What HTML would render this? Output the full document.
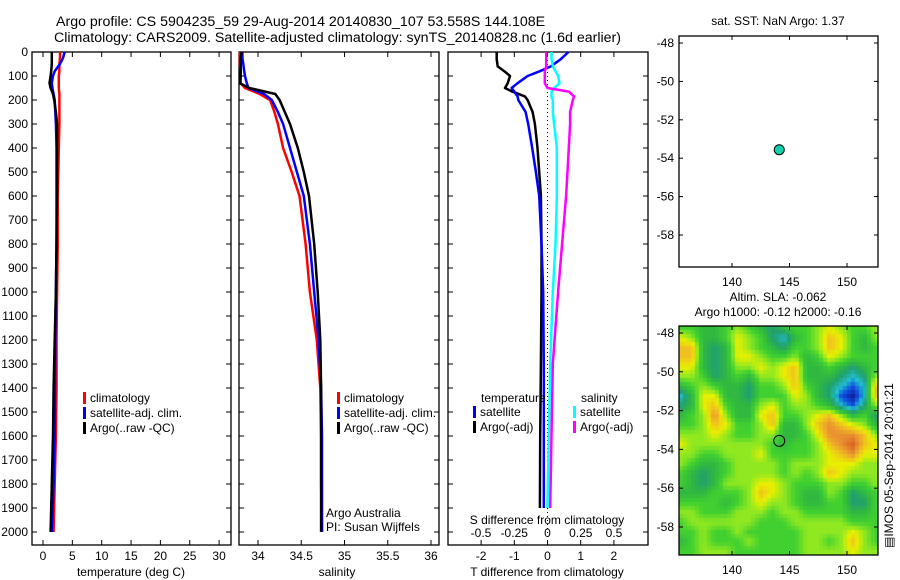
<!DOCTYPE html>
<html><head><meta charset="utf-8">
<style>
html,body{margin:0;padding:0;background:#fff;}
svg{display:block;font-family:"Liberation Sans",sans-serif;}
text{font-size:12px;fill:#000;}
</style></head>
<body>
<svg id="chart" width="900" height="580" viewBox="0 0 900 580" xmlns="http://www.w3.org/2000/svg">
<text x="56" y="26" style="font-size:14.2px">Argo profile: CS 5904235_59 29-Aug-2014 20140830_107 53.558S 144.108E</text>
<text x="54" y="42" style="font-size:14.2px">Climatology: CARS2009. Satellite-adjusted climatology: synTS_20140828.nc (1.6d earlier)</text>
<g id="g"></g>
<foreignObject x="679" y="326" width="199" height="229"><canvas xmlns="http://www.w3.org/1999/xhtml" id="hm" width="199" height="229" style="display:block"></canvas></foreignObject>
<g id="g2"></g>
</svg>
<script>
// ---- data ----
const depths=[0,25,50,80,100,130,150,175,200,250,300,400,500,600,800,1000,1200,1400,1600,1800,2000];
const tClim=[2.9,2.9,2.8,2.8,2.7,2.7,2.7,2.8,2.8,2.8,2.8,2.7,2.6,2.5,2.5,2.4,2.3,2.3,2.2,2.0,1.8];
const tSat=[3.7,3.4,2.9,2.0,1.7,1.5,1.6,1.8,2.0,2.1,2.2,2.3,2.3,2.3,2.3,2.2,2.1,2.05,2.0,1.8,1.5];
const tArgo=[1.5,1.5,1.5,1.4,1.3,1.1,1.3,1.7,1.9,2.2,2.4,2.4,2.4,2.4,2.3,2.2,2.0,1.8,1.7,1.5,1.3];
const sClim=[33.79,33.79,33.79,33.80,33.80,33.80,33.85,34.02,34.14,34.19,34.23,34.29,34.39,34.48,34.55,34.60,34.68,34.72,34.73,34.73,34.74];
const sSat=[33.82,33.82,33.83,33.84,33.85,33.87,33.89,34.07,34.16,34.23,34.29,34.37,34.45,34.53,34.60,34.65,34.70,34.73,34.74,34.74,34.74];
const sArgo=[33.81,33.80,33.80,33.80,33.80,33.79,33.90,34.20,34.25,34.31,34.37,34.46,34.53,34.59,34.65,34.69,34.72,34.73,34.73,34.73,34.73];
const dDepths=[0,30,60,80,100,130,150,165,185,200,250,300,400,500,600,800,1000,1300,1600,1900];
const dTSat=[0.63,0.4,0.1,-0.23,-0.6,-0.9,-1.08,-1.0,-0.9,-0.88,-0.66,-0.58,-0.46,-0.35,-0.25,-0.18,-0.13,-0.11,-0.11,-0.11];
const dTArgo=[-1.53,-1.53,-1.5,-1.3,-1.13,-1.2,-1.28,-1.06,-0.68,-0.6,-0.45,-0.38,-0.3,-0.25,-0.2,-0.18,-0.18,-0.2,-0.22,-0.23];
const dSSat=[0.03,0.03,0.04,0.06,0.08,0.09,0.05,0.03,0.03,0.04,0.04,0.05,0.07,0.07,0.07,0.06,0.04,0.02,0.01,0.0];
const dSArgo=[-0.01,-0.01,-0.01,-0.02,-0.02,-0.02,0.0,0.16,0.2,0.19,0.17,0.17,0.16,0.15,0.14,0.11,0.08,0.04,0.03,0.02];
const depthTicks=[0,100,200,300,400,500,600,700,800,900,1000,1100,1200,1300,1400,1500,1600,1700,1800,1900,2000];
const tTicks=[0,5,10,15,20,25,30];
const sTicks=[34,34.5,35,35.5,36];
const dTTicks=[-2,-1,0,1,2];
const dSTicks=[-0.5,-0.25,0,0.25,0.5];
const dSTickLabels=["-0.5","-0.25","0","0.25","0.5"];
const lonTicks=[140,145,150];
const latTicks=[-48,-50,-52,-54,-56,-58];
const floatLon=[144.108];
const floatLat=[-53.558];
const hmLons=[135.5,136.5,137.5,138.5,139.5,140.5,141.5,142.5,143.5,144.5,145.5,146.5,147.5,148.5,149.5,150.5,151.5,152.5];
const hmLats=[-47.75,-48.25,-48.75,-49.25,-49.75,-50.25,-50.75,-51.25,-51.75,-52.25,-52.75,-53.25,-53.75,-54.25,-54.75,-55.25,-55.75,-56.25,-56.75,-57.25,-57.75,-58.25,-58.75,-59.25];
const hmVals=[
[5,5,4,4,5,6,5,4,3,4,5,5,6,7,6,5,5,6],
[7,6,4,4,5,7,6,5,3,2,4,5,6,8,7,5,4,6],
[8,8,4,3,4,7,6,5,4,3,5,5,6,8,7,5,4,5],
[8,8,4,3,4,7,7,6,5,5,6,4,5,7,6,5,5,5],
[7,7,4,3,4,6,6,7,6,7,8,4,4,5,4,3,4,5],
[6,6,5,3,4,5,4,6,6,7,8,4,4,4,3,2,3,6],
[4,5,6,5,4,4,3,5,5,6,8,5,4,3,2,1,2,8],
[2,4,7,7,4,4,3,5,5,5,7,6,4,3,1,0,2,8],
[3,4,7,8,5,4,4,6,7,5,6,6,5,4,2,1,3,6],
[4,5,6,9,6,4,4,7,8,5,5,6,7,8,6,4,5,3],
[5,5,6,8,7,5,5,6,8,4,4,6,8,9,8,7,6,4],
[6,6,6,7,6,5,5,6,6,4,4,5,7,9,9,9,8,6],
[7,6,6,6,6,6,6,6,5,4,5,5,6,8,9,10,8,7],
[6,6,5,5,6,6,6,7,5,5,5,5,6,7,8,9,7,7],
[6,5,4,4,5,6,6,6,6,5,6,6,6,7,7,7,6,6],
[5,4,3,4,5,6,6,6,6,5,6,5,6,8,7,6,6,6],
[5,4,3,4,6,6,6,7,7,6,5,5,5,6,6,5,5,6],
[4,4,4,5,5,5,6,8,7,6,5,4,4,6,5,3,4,5],
[5,5,5,5,4,5,6,7,6,6,5,4,4,5,5,3,3,5],
[6,6,5,5,5,6,6,6,5,6,6,5,5,5,5,4,4,5],
[5,6,6,6,6,6,6,5,5,5,6,6,6,6,6,5,5,5],
[5,5,6,5,5,6,5,5,5,5,5,6,6,6,6,7,6,5],
[4,5,6,5,5,5,6,5,5,5,5,6,6,5,6,8,6,5],
[5,5,6,6,6,5,5,5,5,5,5,6,6,6,6,7,6,6]];

const NS="http://www.w3.org/2000/svg";
const G=document.getElementById('g'), G2=document.getElementById('g2');
function el(tag,attrs,parent,txt){const e=document.createElementNS(NS,tag);for(const k in attrs)e.setAttribute(k,attrs[k]);if(txt!==undefined)e.textContent=txt;(parent||G).appendChild(e);return e;}

const Y=d=>52+d*0.24;
const xT=v=>43+v*5.87;
const xS=v=>258+(v-34)*86.5;
const xDT=v=>547.5+v*33.2;
const xDS=v=>547.5+v*133;
const xLon=v=>732+(v-140)*11.5;
const yLat1=v=>43+(-48-v)*19.2;
const yLat2=v=>333+(-48-v)*19.4;

function frame(x0,x1,y0,y1,name,p){
  const r=el('rect',{x:x0,y:y0,width:x1-x0,height:y1-y0,fill:'none',stroke:'#000','stroke-width':1.3},p);
  
  
}
function depthAxis(x0,x1,labels){
  depthTicks.forEach(d=>{
    el('line',{x1:x0,x2:x0+5,y1:Y(d),y2:Y(d),stroke:'#000'});
    el('line',{x1:x1-5,x2:x1,y1:Y(d),y2:Y(d),stroke:'#000'});
    if(labels){const t=el('text',{x:x0-4,y:Y(d)+4,'text-anchor':'end'},G,String(d));
      
      }
  });
}
function xAxis(ticks,fx,x0,x1,labels,lblY){
  ticks.forEach((v,i)=>{const x=fx(v);
    el('line',{x1:x,x2:x,y1:545,y2:540,stroke:'#000'});
    el('line',{x1:x,x2:x,y1:52,y2:57,stroke:'#000'});
    const t=el('text',{x:x,y:lblY||560,'text-anchor':'middle'},G,labels?labels[i]:String(v));
    
    
  });
}
function line(xs,ds,fx,color,name,w){
  const pts=xs.map((v,i)=>fx(v).toFixed(1)+','+Y(ds[i]).toFixed(1)).join(' ');
  const p=el('polyline',{points:pts,fill:'none',stroke:color,'stroke-width':w||2.5,'stroke-linejoin':'round'});
  
  
}
function legend(x,y,items){
  items.forEach((it,i)=>{
    el('rect',{x:x,y:y+i*15-10,width:3,height:12,fill:it[1]});
    const t=el('text',{x:x+7,y:y+i*15},G,it[0]);
    
    
  });
}

// panel 1 temperature
frame(32,231,52,545,'temperature-axes');
depthAxis(32,231,true);
xAxis(tTicks,xT);
line(tClim,depths,xT,'#f00','temp-climatology');
line(tSat,depths,xT,'#00f','temp-satellite-adj');
line(tArgo,depths,xT,'#000','temp-argo');
legend(83,402,[['climatology','#f00'],['satellite-adj. clim.','#00f'],['Argo(..raw -QC)','#000']]);
let t=el('text',{x:131,y:576,'text-anchor':'middle'},G,'temperature (deg C)');


// panel 2 salinity
frame(239,439,52,545,'salinity-axes');
depthAxis(239,439,false);
xAxis(sTicks,xS);
line(sClim,depths,xS,'#f00','sal-climatology');
line(sSat,depths,xS,'#00f','sal-satellite-adj');
line(sArgo,depths,xS,'#000','sal-argo');
legend(337,402,[['climatology','#f00'],['satellite-adj. clim.','#00f'],['Argo(..raw -QC)','#000']]);
t=el('text',{x:326,y:517},G,'Argo Australia');
t=el('text',{x:326,y:531},G,'PI: Susan Wijffels');
t=el('text',{x:337,y:576,'text-anchor':'middle'},G,'salinity');

// panel 3 differences
frame(448,648,52,545,'difference-axes');
depthAxis(448,648,false);
xAxis(dTTicks,xDT);
dSTicks.forEach((v,i)=>{const tt=el('text',{x:xDS(v),y:537,'text-anchor':'middle'},G,dSTickLabels[i]);
  });
el('line',{x1:xDT(0),x2:xDT(0),y1:52,y2:545,stroke:'#000','stroke-dasharray':'1,3'});
line(dTArgo,dDepths,xDT,'#000','tdiff-argo');
line(dTSat,dDepths,xDT,'#00f','tdiff-satellite');
line(dSSat,dDepths,xDS,'#0ff','sdiff-satellite');
line(dSArgo,dDepths,xDS,'#f0f','sdiff-argo');
t=el('text',{x:481,y:402},G,'temperature');
t=el('text',{x:581,y:402},G,'salinity');
legend(473,416,[['satellite','#00f'],['Argo(-adj)','#000']]);
legend(573,416,[['satellite','#0ff'],['Argo(-adj)','#f0f']]);
t=el('text',{x:547,y:524,'text-anchor':'middle'},G,'S difference from climatology');
t=el('text',{x:547,y:576,'text-anchor':'middle'},G,'T difference from climatology');

// panel 4 sst map
function mapAxes(y0,y1,yLat,name){
  frame(679,878,y0,y1,name,G2);
  lonTicks.forEach(v=>{const x=xLon(v);
    el('line',{x1:x,x2:x,y1:y1,y2:y1-4,stroke:'#000'},G2);
    el('line',{x1:x,x2:x,y1:y0,y2:y0+4,stroke:'#000'},G2);
    const tt=el('text',{x:x,y:y1+19,'text-anchor':'middle'},G2,String(v));
    });
  latTicks.forEach(v=>{const y=yLat(v);
    el('line',{x1:679,x2:683,y1:y,y2:y,stroke:'#000'},G2);
    el('line',{x1:874,x2:878,y1:y,y2:y,stroke:'#000'},G2);
    const tt=el('text',{x:674,y:y+4,'text-anchor':'end'},G2,String(v));
    });
}
mapAxes(36,267,yLat1,'sst-map-axes');
t=el('text',{x:778,y:25,'text-anchor':'middle'},G2,'sat. SST: NaN Argo: 1.37');
floatLon.forEach((v,i)=>{const c=el('circle',{cx:xLon(v),cy:yLat1(floatLat[i]),r:5,fill:'#10d0b0',stroke:'#000','stroke-width':1},G2);
  });

// panel 5 SLA map
mapAxes(326,555,yLat2,'sla-map-axes');
t=el('text',{x:778,y:301,'text-anchor':'middle'},G2,'Altim. SLA: -0.062');
t=el('text',{x:778,y:316,'text-anchor':'middle'},G2,'Argo h1000: -0.12 h2000: -0.16');
floatLon.forEach((v,i)=>{const c=el('circle',{cx:xLon(v),cy:yLat2(floatLat[i]),r:5.5,fill:'none',stroke:'#000','stroke-width':1},G2);
  });
t=el('text',{x:0,y:0,transform:'translate(893,548) rotate(-90)'},G2,'\u25A4IMOS 05-Sep-2014 20:01:21');


// heatmap drawing
const cmap=[[16,32,160],[16,80,224],[32,192,208],[32,160,112],[48,184,64],[64,208,48],[144,232,32],[232,240,0],[240,192,32],[232,144,48],[216,96,32]];
(function(){
  const cv=document.getElementById('hm'),ctx=cv.getContext('2d');
  const B=4;
  for(let py=0;py<229;py+=B){for(let px=0;px<199;px+=B){
    const lon=140+(679+px+B/2-732)/11.5, lat=-48-(326+py+B/2-333)/19.4;
    let fi=(lon-hmLons[0])/(hmLons[1]-hmLons[0]), fj=(lat-hmLats[0])/(hmLats[1]-hmLats[0]);
    fi=Math.max(0,Math.min(hmLons.length-1.001,fi));fj=Math.max(0,Math.min(hmLats.length-1.001,fj));
    const i=Math.floor(fi),j=Math.floor(fj),a=fi-i,b=fj-j;
    const v=(hmVals[j][i]*(1-a)+hmVals[j][i+1]*a)*(1-b)+(hmVals[j+1][i]*(1-a)+hmVals[j+1][i+1]*a)*b;
    const k=Math.max(0,Math.min(9.999,v)),k0=Math.floor(k),f=k-k0;
    const c=cmap[k0].map((q,n)=>Math.round(q*(1-f)+cmap[k0+1][n]*f));
    ctx.fillStyle='rgb('+c+')';ctx.fillRect(px,py,B,B);
  }}
})();
</script>
</body></html>
